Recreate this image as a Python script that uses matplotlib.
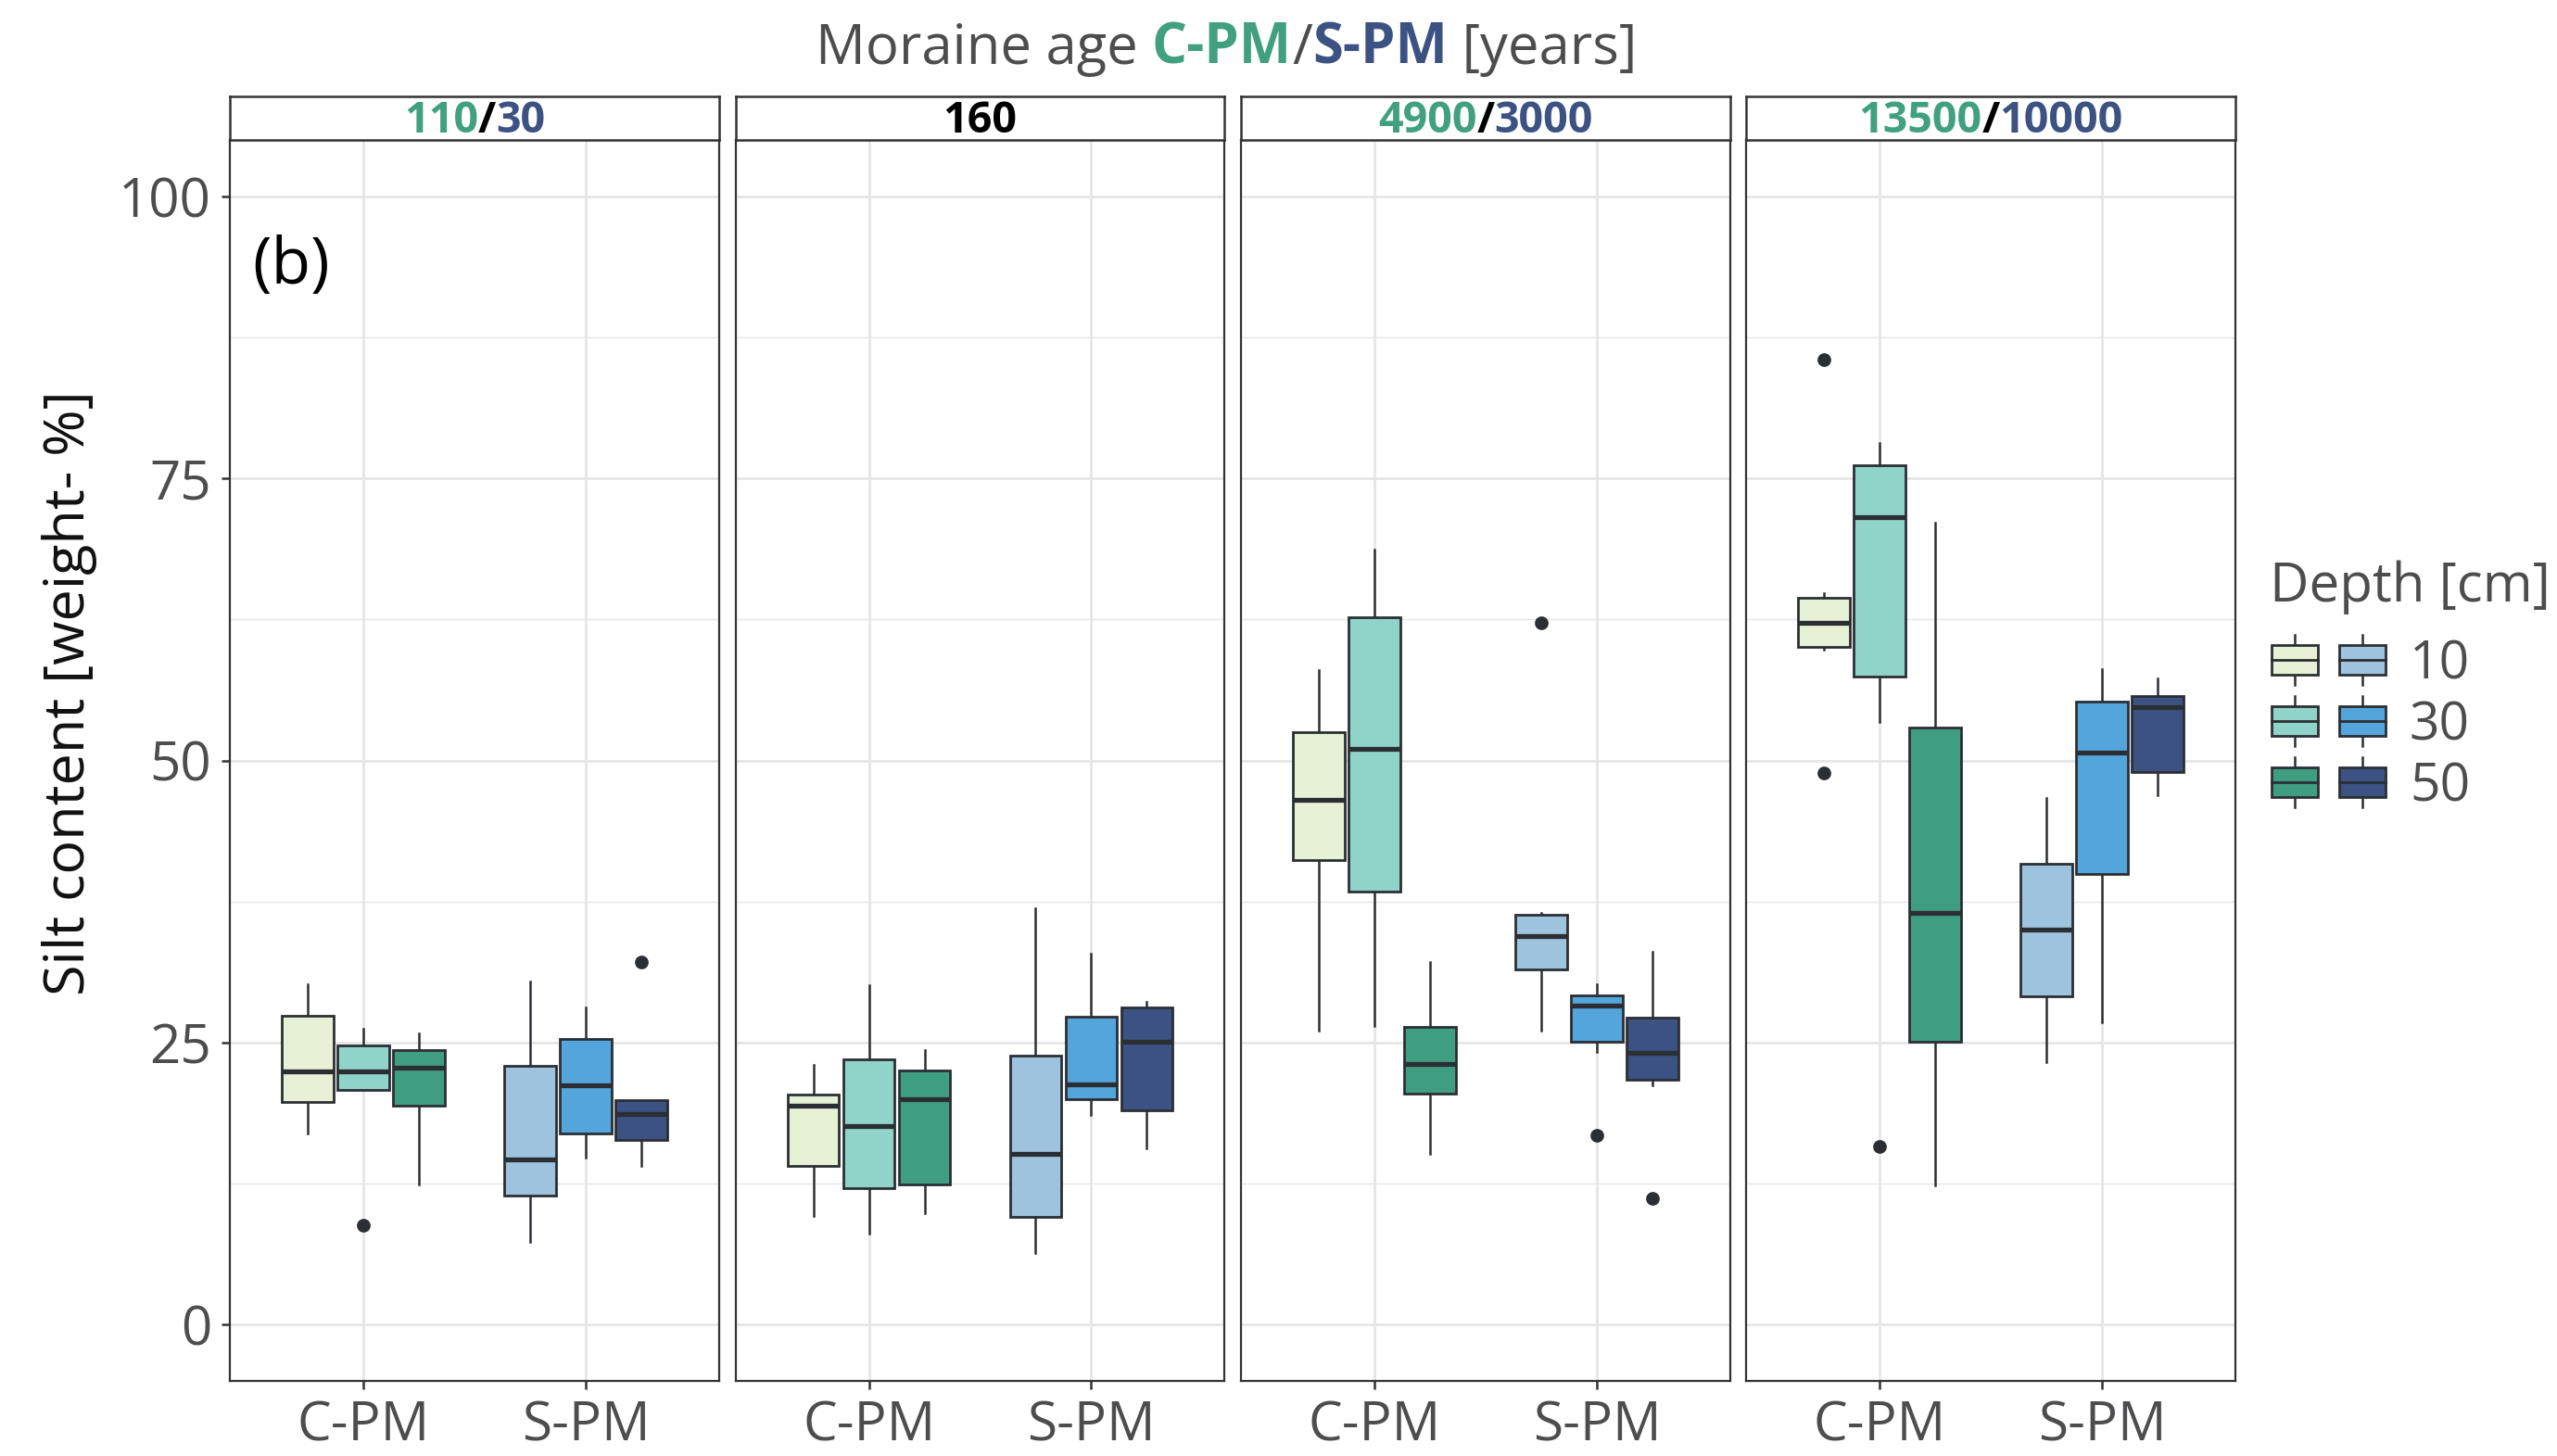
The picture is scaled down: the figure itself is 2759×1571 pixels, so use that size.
import numpy as np
import matplotlib
matplotlib.use("Agg")
import matplotlib.pyplot as plt
from matplotlib.patches import Rectangle

plt.rcParams['font.family'] = ['Open Sans', 'DejaVu Sans']

# ---- data: (whislo, q1, median, q3, whishi) per depth 10/30/50 ----
panel_ages_cpm = ["110", "", "4900", "13500"]
panel_ages_spm = ["30", "160", "3000", "10000"]
sites = ["C-PM", "S-PM"]
depths = ["10", "30", "50"]

age1_cpm = [[16.9, 19.75, 22.4, 27.4, 30.15],
            [20.8, 20.8, 22.4, 24.7, 26.2],
            [12.4, 19.4, 22.8, 24.35, 25.8]]
age1_spm = [[7.3, 11.45, 14.6, 22.9, 30.4],
            [14.8, 16.9, 21.2, 25.3, 28.1],
            [14.1, 16.4, 18.7, 19.9, 19.9]]
age2_cpm = [[9.6, 14.1, 19.4, 20.4, 23.0],
            [8.1, 12.1, 17.6, 23.5, 30.05],
            [9.9, 12.4, 20.0, 22.5, 24.3]]
age2_spm = [[6.3, 9.5, 15.1, 23.8, 36.9],
            [18.6, 20.0, 21.3, 27.3, 32.9],
            [15.6, 19.0, 25.1, 28.1, 28.6]]
age3_cpm = [[26.05, 41.2, 46.5, 52.5, 58.0],
            [26.45, 38.4, 51.0, 62.7, 68.7],
            [15.1, 20.5, 23.1, 26.4, 32.15]]
age3_spm = [[26.05, 31.5, 34.4, 36.3, 36.5],
            [24.2, 25.1, 28.3, 29.2, 30.2],
            [21.2, 21.7, 24.1, 27.2, 33.0]]
age4_cpm = [[59.8, 60.1, 62.2, 64.4, 64.8],
            [53.4, 57.4, 71.6, 76.2, 78.1],
            [12.3, 25.05, 36.5, 52.9, 71.1]]
age4_spm = [[23.3, 29.1, 35.0, 40.8, 46.7],
            [26.8, 39.9, 50.7, 55.2, 58.1],
            [46.9, 49.0, 54.7, 55.7, 57.3]]

# outliers: (panel, site, depth index, value)
outliers = [(0, 0, 1, 8.8), (0, 1, 2, 32.1),
            (2, 1, 0, 62.2), (2, 1, 1, 16.8), (2, 1, 2, 11.2),
            (3, 0, 0, 85.5), (3, 0, 0, 48.9), (3, 0, 1, 15.8)]

panel_data = [(age1_cpm, age1_spm), (age2_cpm, age2_spm),
              (age3_cpm, age3_spm), (age4_cpm, age4_spm)]

GREENS = ["#E6F1D5", "#8FD3C9", "#409E80"]
BLUES = ["#9EC3DF", "#53A5DB", "#3B5283"]
GREEN_TXT = "#41A07F"
NAVY_TXT = "#3B5283"
LINE = "#2B2F33"
GREY = "#4D4D4F"
GRID = "#E6E6E6"

W, H, DPI = 2759, 1571, 200
fig = plt.figure(figsize=(W / DPI, H / DPI), dpi=DPI)
fig.patch.set_facecolor("white")


def px_box(x0, y0, x1, y1):
    return [x0 / W, 1 - y1 / H, (x1 - x0) / W, (y1 - y0) / H]


def multicolor(fig, cx, cy, parts, weights=None, **kw):
    # place coloured text pieces side by side, centred on (cx, cy) in pixels
    r = fig.canvas.get_renderer()
    weights = weights or ["normal"] * len(parts)
    texts = [fig.text(0, 0, s, color=c, va="center", ha="left", fontweight=wt, **kw)
             for (s, c), wt in zip(parts, weights)]
    widths = [t.get_window_extent(r).width for t in texts]
    x = cx - sum(widths) / 2
    for t, w in zip(texts, widths):
        t.set_position((x / W, 1 - cy / H))
        x += w


PANEL_X = [(248, 776), (794, 1321), (1339, 1867), (1884, 2412)]
TOP, BOTTOM, STRIP_TOP = 151, 1490, 104
offsets = [-0.25, 0.0, 0.25]

for i, (x0, x1) in enumerate(PANEL_X):
    ax = fig.add_axes(px_box(x0, TOP, x1, BOTTOM))
    ax.set_xlim(0.4, 2.6)
    ax.set_ylim(-5, 105)
    ax.set_yticks([0, 25, 50, 75, 100])
    ax.set_yticks([12.5, 37.5, 62.5, 87.5], minor=True)
    ax.set_xticks([1, 2])
    ax.set_xticklabels(sites)
    ax.grid(which="major", color=GRID, linewidth=1.0, zorder=0)
    ax.grid(which="minor", axis="y", color=GRID, linewidth=0.5, zorder=0)
    ax.set_axisbelow(True)
    for sp in ax.spines.values():
        sp.set_edgecolor("#333333")
        sp.set_linewidth(0.8)
    ax.tick_params(axis="x", length=3.2, width=0.9, color="#333333",
                   labelsize=21, labelcolor=GREY, pad=4)
    ax.tick_params(axis="y", which="major", length=3.2, width=0.9, color="#333333",
                   labelsize=21, labelcolor=GREY, pad=4)
    ax.tick_params(axis="y", which="minor", length=0)
    if i > 0:
        ax.tick_params(axis="y", which="major", length=0, labelleft=False)

    for s, (site_stats, pal) in enumerate(zip(panel_data[i], (GREENS, BLUES))):
        stats, pos = [], []
        for d, row in enumerate(site_stats):
            lo, q1, med, q3, hi = row
            fl = [v for (p, ss, dd, v) in outliers if p == i and ss == s and dd == d]
            stats.append(dict(whislo=lo, q1=q1, med=med, q3=q3, whishi=hi, fliers=fl))
            pos.append(s + 1 + offsets[d])
        art = ax.bxp(stats, positions=pos, widths=0.23, patch_artist=True,
                     showcaps=False, manage_ticks=False,
                     boxprops=dict(edgecolor=LINE, linewidth=1.0),
                     medianprops=dict(color=LINE, linewidth=1.9, solid_capstyle="butt"),
                     whiskerprops=dict(color=LINE, linewidth=0.9),
                     flierprops=dict(marker="o", markerfacecolor=LINE,
                                     markeredgecolor=LINE, markersize=4.3))
        for b, c in zip(art["boxes"], pal):
            b.set_facecolor(c)
            b.set_zorder(3)
        for m in art["medians"]:
            m.set_zorder(4)

    if i == 0:
        ax.text(0.045, 0.898, "(b)", transform=ax.transAxes, fontsize=25,
                color="black", ha="left", va="center")

    # strip
    sax = fig.add_axes(px_box(x0, STRIP_TOP, x1, TOP))
    sax.set_xticks([])
    sax.set_yticks([])
    for sp in sax.spines.values():
        sp.set_edgecolor("#333333")
        sp.set_linewidth(0.9)
    cx, cy = (x0 + x1) / 2, (STRIP_TOP + TOP) / 2 + 3
    if panel_ages_cpm[i]:
        parts = [(panel_ages_cpm[i], GREEN_TXT), ("/", "black"),
                 (panel_ages_spm[i], NAVY_TXT)]
    else:
        parts = [(panel_ages_spm[i], "black")]
    multicolor(fig, cx, cy, parts, weights=["bold"] * len(parts), fontsize=16.8)

# title
multicolor(fig, 1323, 53, [("Moraine age ", GREY), ("C-PM", GREEN_TXT), ("/", GREY),
                           ("S-PM", NAVY_TXT), (" [years]", GREY)],
           weights=["normal", "bold", "normal", "bold", "normal"], fontsize=21.5)

# y label
fig.text(75 / W, 1 - 748 / H, "Silt content [weight- %]", rotation=90,
         fontsize=22, color="#111111", ha="center", va="center")

# legend
lax = fig.add_axes(px_box(2430, 590, 2759, 880))
lax.set_xlim(2430, 2759)
lax.set_ylim(880, 590)
lax.axis("off")
lax.text(2449, 634, "Depth [cm]", fontsize=21, color=GREY, ha="left", va="center")
row_y = [712, 778, 844]
for r, y in enumerate(row_y):
    for xc, pal in ((2476, GREENS), (2549, BLUES)):
        lax.plot([xc, xc], [y - 27, y + 27], color=LINE, linewidth=0.9)
        lax.add_patch(Rectangle((xc - 25, y - 16), 50, 32, facecolor=pal[r],
                                edgecolor=LINE, linewidth=1.0, zorder=3))
        lax.plot([xc - 25, xc + 25], [y, y], color=LINE, linewidth=1.0, zorder=4)
    lax.text(2600, y + 6, depths[r], fontsize=20.5, color=GREY, ha="left", va="center")

fig.savefig("out.png", dpi=DPI)
